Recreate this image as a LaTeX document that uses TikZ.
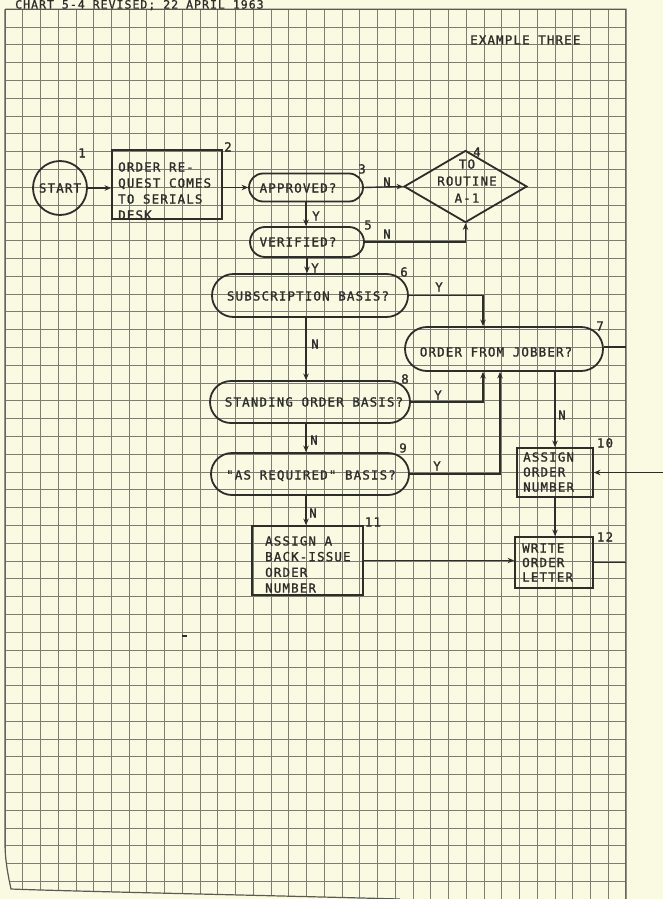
\documentclass[tikz,border=0pt]{standalone}
\usepackage{fontspec}
\newfontfamily\leroy{DejaVu Sans Mono}[LetterSpace=9, FakeBold=1.2]
\usetikzlibrary{shapes.geometric,arrows.meta}
\definecolor{paper}{RGB}{250,250,226}
\definecolor{ink}{RGB}{45,45,42}
\definecolor{gridc}{RGB}{125,125,115}
\definecolor{edgec}{RGB}{90,90,84}

\begin{document}
\begin{tikzpicture}[x=1pt,y=-1pt,
  lettering/.style={font=\leroy\fontsize{12.5}{16}\selectfont, text=ink, inner sep=0pt},
  block/.style={lettering, align=left},
  tag/.style={lettering, text height=9pt, text depth=0pt},
  shapeline/.style={draw=ink, line width=1.8pt},
  stadium/.style={shapeline, rectangle, rounded corners=#1, minimum height=2*#1, inner sep=0pt},
  boxnode/.style={shapeline, rectangle, inner sep=0pt},
  flow/.style={draw=ink, line width=1.4pt},
  arr/.style={flow, -{Stealth[length=6.5pt,width=5.5pt]}},
  gridline/.style={draw=gridc, line width=0.85pt},
]
% paper and page frame
\fill[paper] (0,0) rectangle (663,899);
\useasboundingbox (0,0) rectangle (663,899);

% the printed grid of the sheet, its lower left corner curling
\begin{scope}
  \clip (5,9.3) -- (626,9.3) -- (626,899) -- (400,899)
        .. controls (250,895) and (60,891) .. (11,889)
        .. controls (8,875) and (5,860) .. (5,843) -- cycle;
  \foreach \k in {0,...,35}
    \draw[gridline] ({5+17.74*\k},0) -- ++(0,899);
  \foreach \k in {0,...,50}
    \draw[gridline] (0,{9.3+17.8*\k}) -- ++(663,0);
\end{scope}
\draw[edgec, line width=1.2pt] (5,9.3) -- (626,9.3) -- (626,899) (400,899)
        .. controls (250,895) and (60,891) .. (11,889)
        .. controls (8,875) and (5,860) .. (5,843) -- (5,9.3);

% headings
\node[tag, anchor=base west, text depth=2pt, font=\leroy\fontsize{11.5}{14}\selectfont] (title) at (15,8.6) {CHART 5-4 REVISED; 22 APRIL 1963};
\node[tag, anchor=west] (example) at (470,40) {EXAMPLE THREE};

% flowchart symbols
\node[shapeline, circle, minimum size=54pt, inner sep=0pt, lettering] (start) at (60,188) {START};
\node[boxnode, minimum width=110pt, minimum height=69pt] (request) at (167,184.5) {};
\node[stadium=14pt, minimum width=114pt] (approved) at (306,187.5) {};
\node[shapeline, diamond, minimum width=123pt, minimum height=72pt, inner sep=0pt] (routine) at (465.5,186.5) {};
\node[stadium=15pt, minimum width=114pt] (verified) at (307,242) {};
\node[stadium=21.5pt, minimum width=196pt] (subscription) at (310,295.5) {};
\node[stadium=22pt, minimum width=198pt] (jobber) at (504,349) {};
\node[stadium=21pt, minimum width=200pt] (standing) at (310,402) {};
\node[stadium=21pt, minimum width=198pt] (asrequired) at (310,474) {};
\node[boxnode, minimum width=76pt, minimum height=49pt] (assign) at (555,472.5) {};
\node[boxnode, minimum width=111pt, minimum height=69pt] (backissue) at (307.5,560.5) {};
\node[boxnode, minimum width=78pt, minimum height=51pt] (letter) at (554,562.5) {};

% wording inside the symbols
\node[block, anchor=west] (t-request) at (118,191) {ORDER RE-\\QUEST COMES\\TO SERIALS\\DESK};
\node[tag] (t-approved) at (298,188) {APPROVED?};
\node[block, align=center, font=\leroy\fontsize{12.5}{17}\selectfont] (t-routine) at (467,181) {TO\\ROUTINE\\A-1};
\node[tag] (t-verified) at (298,242) {VERIFIED?};
\node[tag] (t-subscription) at (308,296) {SUBSCRIPTION BASIS?};
\node[tag] (t-jobber) at (496,352) {ORDER FROM JOBBER?};
\node[tag] (t-standing) at (314,402) {STANDING ORDER BASIS?};
\node[tag] (t-asrequired) at (311,475) {"AS REQUIRED" BASIS?};
\node[block, anchor=west, font=\leroy\fontsize{12.5}{15}\selectfont] (t-assign) at (523,472) {ASSIGN\\ORDER\\NUMBER};
\node[block, anchor=west, font=\leroy\fontsize{12.5}{15.7}\selectfont] (t-backissue) at (265,564.5) {ASSIGN A\\BACK-ISSUE\\ORDER\\NUMBER};
\node[block, anchor=west, font=\leroy\fontsize{12.5}{14.5}\selectfont] (t-letter) at (522,562.5) {WRITE\\ORDER\\LETTER};

% step numbers
\node[tag] (n1) at (82,153) {1};
\node[tag] (n2) at (228,147) {2};
\node[tag] (n3) at (362,169) {3};
\node[tag] (n4) at (477,152) {4};
\node[tag] (n5) at (368,225) {5};
\node[tag] (n6) at (404,272) {6};
\node[tag] (n7) at (600,326) {7};
\node[tag] (n8) at (405,379) {8};
\node[tag] (n9) at (403,448) {9};
\node[tag] (n10) at (605,443) {10};
\node[tag] (n11) at (373,522) {11};
\node[tag] (n12) at (605,537) {12};

% connectors
\draw[arr] (start.east) -- (request.west |- start.east);
\draw[arr] (request.east |- approved.west) -- (approved.west);
\draw[arr] (approved.east) -- (routine.west);
\draw[arr] (approved.south) -- (approved.south |- verified.north);
\draw[arr] (verified.east) -| (routine.south);
\draw[arr] (verified.south) -- (verified.south |- subscription.north);
\draw[arr] (subscription.east) -| ([xshift=-21pt]jobber.north);
\draw[arr] ([xshift=-4pt]subscription.south) -- ([xshift=-4pt]standing.north);
\draw[arr] (standing.east) -| ([xshift=-21pt]jobber.south);
\draw[arr] ([xshift=-4pt]standing.south) -- ([xshift=-4pt]asrequired.north);
\draw[arr] (asrequired.east) -| ([xshift=-4pt]jobber.south);
\draw[arr] ([xshift=-4pt]asrequired.south) -- ([xshift=-4pt]asrequired.south |- backissue.north);
\draw[arr] (assign.north |- jobber.south) -- (assign.north);
\draw[arr] (assign.south) -- (assign.south |- letter.north);
\draw[arr] (backissue.east) -- (backissue.east -| letter.west);
\coordinate (jobber-out) at (626,347);
\coordinate (assign-in) at (663,472.5);
\coordinate (letter-out) at (626,562.5);
\draw[flow] (jobber.east |- jobber-out) -- (jobber-out);
\draw[arr] (assign-in) -- (assign.east);
\draw[flow] (letter.east) -- (letter-out);

% branch labels
\node[tag] (l-an) at (387,182) {N};
\node[tag] (l-ay) at (316,216) {Y};
\node[tag] (l-vn) at (387,234) {N};
\node[tag] (l-vy) at (315,268) {Y};
\node[tag] (l-sy) at (439,287) {Y};
\node[tag] (l-sn) at (315,344) {N};
\node[tag] (l-ty) at (438,395) {Y};
\node[tag] (l-tn) at (314,440) {N};
\node[tag] (l-ry) at (437,466) {Y};
\node[tag] (l-jn) at (562,415) {N};
\node[tag] (l-rn) at (313,513) {N};

% pencil fleck on the sheet
\fill[ink] (182,634.5) rectangle (187,637);
\end{tikzpicture}
\end{document}
